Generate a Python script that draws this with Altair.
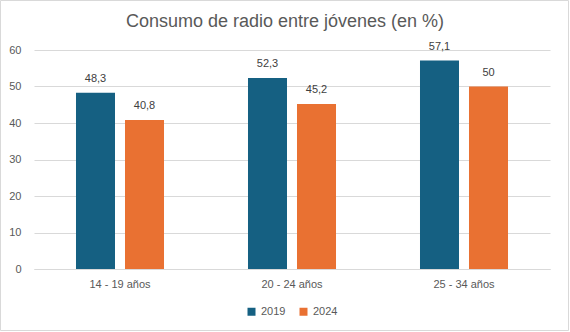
import altair as alt
import pandas as pd

title_text = "Consumo de radio entre jóvenes (en %)"
groups = ["14 - 19 años", "20 - 24 años", "25 - 34 años"]
series = ["2019", "2024"]
v2019 = [48.3, 52.3, 57.1]
v2024 = [40.8, 45.2, 50.0]
lab2019 = ["48,3", "52,3", "57,1"]
lab2024 = ["40,8", "45,2", "50"]
colors = ["#156082", "#E97132"]

rows = []
for g, a, b, la, lb in zip(groups, v2019, v2024, lab2019, lab2024):
    rows.append({"grupo": g, "serie": "2019", "valor": a, "label": la})
    rows.append({"grupo": g, "serie": "2024", "valor": b, "label": lb})
df = pd.DataFrame(rows)

W, H = 516, 219
xenc = alt.X("grupo:N", sort=groups, title=None,
             scale=alt.Scale(paddingInner=0, paddingOuter=0),
             axis=alt.Axis(labelAngle=0, ticks=False, domainColor="#d9d9d9",
                           labelColor="#595959", labelFontSize=11, labelPadding=9,
                           labelFont="Liberation Sans"))
xoff = alt.XOffset("serie:N", sort=series,
                   scale=alt.Scale(paddingInner=0.204, paddingOuter=0.857))
yenc = alt.Y("valor:Q", title=None,
             scale=alt.Scale(domain=[0, 60]),
             axis=alt.Axis(values=[0, 10, 20, 30, 40, 50, 60], domain=False, ticks=False,
                           grid=True, gridColor="#d9d9d9", labelColor="#595959",
                           labelFontSize=11, labelPadding=13, labelFont="Liberation Sans",
                           labelOverlap=False))

base = alt.Chart(df).encode(x=xenc, xOffset=xoff, y=yenc)
bars = base.mark_bar().encode(
    color=alt.Color("serie:N", sort=series, scale=alt.Scale(domain=series, range=colors),
                    legend=alt.Legend(title=None, orient="none", legendX=212, legendY=256,
                                      direction="horizontal", symbolType="square",
                                      symbolSize=64, symbolStrokeWidth=0,
                                      labelColor="#595959", labelFontSize=11,
                                      labelFont="Liberation Sans", columnPadding=12,
                                      symbolOpacity=1)),
)
text = base.mark_text(dy=-9, fontSize=11, color="#404040", font="Liberation Sans",
                      baseline="bottom").encode(text="label:N")

one = pd.DataFrame({"t": [title_text]})
border = alt.Chart(one).mark_rect(
    fill=None, stroke="#d9d9d9", strokeWidth=1).encode(
    x=alt.value(-33.5), x2=alt.value(534.5), y=alt.value(-49.5), y2=alt.value(280.5))
title = alt.Chart(one).mark_text(fontSize=18, font="Liberation Sans", color="#595959",
                                 align="center", baseline="middle").encode(
    x=alt.value(251), y=alt.value(-28), text="t:N")

chart = alt.layer(border, title, bars, text).properties(
    width=W, height=H,
    autosize=alt.AutoSizeParams(type="none"),
    padding={"left": 34, "top": 50, "right": 20, "bottom": 63},
).configure_view(stroke=None)

chart.save("out.html", embed_options={"renderer": "svg", "actions": False})
